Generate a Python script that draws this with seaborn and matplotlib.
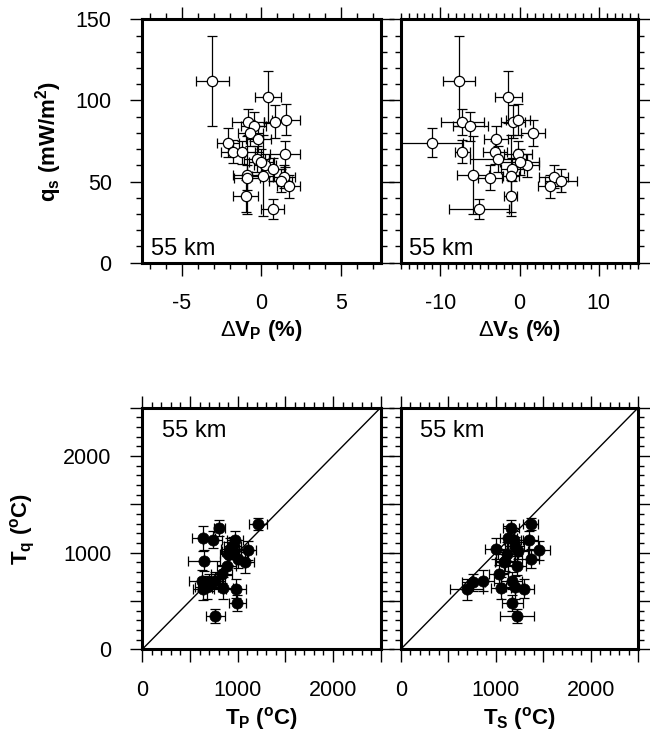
import numpy as np
import pandas as pd
import matplotlib
matplotlib.use('Agg')
import matplotlib.pyplot as plt
from matplotlib.ticker import MultipleLocator, FixedLocator
import seaborn as sns

# surface heat flow vs velocity anomalies (55 km)
q_s = [112, 102, 86.5, 87, 88, 84, 80, 76, 74, 68.5, 68, 67, 64, 60, 57.5, 54, 53.6, 52.5, 53, 50.5, 47, 41, 33, 62]
q_err = [27.5, 16, 8, 10, 9.5, 9, 8, 8, 9, 7, 7, 8, 8, 7, 7, 24, 25, 8, 7, 7, 7, 10, 6, 8]
dvp = [-3.1, 0.4, -0.85, 0.85, 1.55, -0.5, -0.7, -0.2, -2.1, -1.8, -1.2, 1.5, -0.3, 0.2, 0.75, -0.9, 0.1, -0.9, 1.4, 1.2, 1.7, -1.0, 0.7, 0.0]
dvp_err = [1.05, 0.8, 1.0, 0.7, 0.9, 0.8, 0.8, 0.8, 0.7, 0.75, 0.8, 0.95, 0.8, 0.7, 0.7, 0.9, 0.7, 0.8, 0.7, 0.7, 0.7, 0.8, 0.7, 0.8]
dvs = [-7.6, -1.4, -7.2, -0.85, -0.2, -6.2, 1.7, -3.0, -11.1, -7.2, -3.1, -0.2, -2.7, 1.0, -0.9, -5.9, -1.1, -3.75, 4.3, 5.25, 3.8, -1.1, -5.1, 0.0]
dvs_err = [2.0, 1.7, 2.7, 1.5, 1.5, 2.2, 1.5, 1.5, 4.0, 1.0, 1.5, 1.8, 3.5, 1.5, 1.5, 2.0, 1.0, 1.5, 1.8, 2.0, 1.5, 0.8, 3.8, 2.5]

# temperatures from heat flow vs from velocities
t_q = [1295, 1253, 1150, 1133, 1126, 1073, 1039, 1025, 1020, 987, 936, 918, 901, 866, 780, 711, 711, 693, 641, 634, 628, 620, 479, 347]
t_q_err = [60, 85, 130, 90, 100, 90, 110, 100, 90, 120, 100, 110, 110, 100, 90, 110, 90, 90, 120, 110, 100, 110, 80, 70]
t_p = [1217, 808, 640, 738, 972, 948, 920, 1112, 940, 900, 1000, 647, 1077, 885, 833, 623, 762, 700, 675, 843, 983, 640, 996, 766]
t_p_err = [93, 60, 122, 100, 80, 90, 90, 80, 100, 90, 100, 170, 90, 100, 110, 130, 110, 120, 120, 110, 100, 110, 90, 100]
t_s = [1368, 1161, 1133, 1190, 1354, 1200, 1003, 1458, 1231, 1120, 1368, 1100, 1087, 1224, 1034, 869, 1168, 764, 1203, 1055, 1298, 694, 1174, 1227]
t_s_err = [80, 80, 90, 100, 90, 100, 120, 110, 110, 100, 90, 100, 100, 90, 100, 110, 110, 120, 90, 110, 100, 175, 110, 180]

depth_label = '55 km'

sns.set_theme(style='ticks')
plt.rcParams['font.family'] = ['Liberation Sans', 'DejaVu Sans']
plt.rcParams['mathtext.fontset'] = 'custom'
plt.rcParams['mathtext.rm'] = 'Liberation Sans'
plt.rcParams['mathtext.it'] = 'Liberation Sans:italic'
plt.rcParams['mathtext.bf'] = 'Liberation Sans:bold'
plt.rcParams['axes.unicode_minus'] = False
for key in ('text.color', 'axes.labelcolor', 'xtick.color', 'ytick.color',
            'xtick.labelcolor', 'ytick.labelcolor'):
    plt.rcParams[key] = 'black'

top_df = pd.DataFrame({'q': q_s, 'q_err': q_err, 'dvp': dvp, 'dvp_err': dvp_err,
                       'dvs': dvs, 'dvs_err': dvs_err})
bot_df = pd.DataFrame({'tq': t_q, 'tq_err': t_q_err, 'tp': t_p, 'tp_err': t_p_err,
                       'ts': t_s, 'ts_err': t_s_err})

fig = plt.figure(figsize=(6.5, 7.34), dpi=100)
ax_vp = fig.add_axes([0.2189, 0.6421, 0.3668, 0.3316])
ax_vs = fig.add_axes([0.6165, 0.6421, 0.3655, 0.3316])
ax_tp = fig.add_axes([0.2189, 0.1154, 0.3668, 0.3293])
ax_ts = fig.add_axes([0.6165, 0.1154, 0.3655, 0.3293])

TICK_FS = 15.5


def style_axis(ax, left_labels):
    for sp in ax.spines.values():
        sp.set_visible(True)
        sp.set_linewidth(2.2)
        sp.set_color('black')
    ax.tick_params(which='both', direction='out', top=True, right=True,
                   labeltop=False, labelright=False, labelleft=left_labels,
                   color='black', labelcolor='black', width=1,
                   labelsize=TICK_FS, pad=13)
    ax.tick_params(which='major', length=9)
    ax.tick_params(which='minor', length=4)
    ax.set_facecolor('white')


def draw_top(ax, xcol, xerrcol):
    ax.errorbar(top_df[xcol], top_df['q'], xerr=top_df[xerrcol], yerr=top_df['q_err'],
                fmt='none', ecolor='black', elinewidth=0.9, capsize=3.5, capthick=0.9, zorder=2)
    sns.scatterplot(data=top_df, x=xcol, y='q', ax=ax, s=55, color='white',
                    edgecolor='black', linewidth=0.9, zorder=3, legend=False)
    ax.set_ylim(0, 150)
    ax.yaxis.set_major_locator(MultipleLocator(50))
    ax.yaxis.set_minor_locator(MultipleLocator(10))
    ax.text(0.035, 0.032, depth_label, transform=ax.transAxes, fontsize=17,
            ha='left', va='baseline', color='black')


def draw_bottom(ax, xcol, xerrcol):
    ax.axline((0, 0), slope=1, color='black', lw=1, zorder=1)
    ax.errorbar(bot_df[xcol], bot_df['tq'], xerr=bot_df[xerrcol], yerr=bot_df['tq_err'],
                fmt='none', ecolor='black', elinewidth=0.9, capsize=3.5, capthick=0.9, zorder=2)
    sns.scatterplot(data=bot_df, x=xcol, y='tq', ax=ax, s=65, color='black',
                    edgecolor='black', linewidth=0.5, zorder=3, legend=False)
    ax.set_xlim(0, 2500)
    ax.set_ylim(0, 2500)
    for axis in (ax.xaxis, ax.yaxis):
        axis.set_major_locator(FixedLocator([0, 500, 1000, 1500, 2000, 2500]))
        axis.set_minor_locator(MultipleLocator(100))
    ax.set_xticklabels(['0', '', '1000', '', '2000', ''])
    ax.set_yticklabels(['0', '', '1000', '', '2000', ''])
    ax.text(0.081, 0.88, depth_label, transform=ax.transAxes, fontsize=17,
            ha='left', va='baseline', color='black')


label_kw = dict(fontsize=16, fontweight='bold', color='black')

draw_top(ax_vp, 'dvp', 'dvp_err')
ax_vp.set_xlim(-7.5, 7.5)
ax_vp.xaxis.set_major_locator(MultipleLocator(5))
ax_vp.xaxis.set_minor_locator(MultipleLocator(1))
style_axis(ax_vp, True)
ax_vp.set_xlabel(r'$\Delta\mathbf{V_P}$ (%)', labelpad=3, **label_kw)
ax_vp.set_ylabel(r'$\mathbf{q_s}$ (mW/m$^\mathbf{2}$)', **label_kw)
ax_vp.yaxis.set_label_coords(-0.33, 0.5)

draw_top(ax_vs, 'dvs', 'dvs_err')
ax_vs.set_xlim(-15, 15)
ax_vs.xaxis.set_major_locator(MultipleLocator(10))
ax_vs.xaxis.set_minor_locator(MultipleLocator(1))
style_axis(ax_vs, False)
ax_vs.set_xlabel(r'$\Delta\mathbf{V_S}$ (%)', labelpad=3, **label_kw)
ax_vs.set_ylabel('')

draw_bottom(ax_tp, 'tp', 'tp_err')
style_axis(ax_tp, True)
ax_tp.set_xlabel(r'$\mathbf{T_P}$ ($^\mathbf{o}$C)', labelpad=3, **label_kw)
ax_tp.set_ylabel(r'$\mathbf{T_q}$ ($^\mathbf{o}$C)', **label_kw)
ax_tp.yaxis.set_label_coords(-0.442, 0.5)

draw_bottom(ax_ts, 'ts', 'ts_err')
style_axis(ax_ts, False)
ax_ts.set_xlabel(r'$\mathbf{T_S}$ ($^\mathbf{o}$C)', labelpad=3, **label_kw)
ax_ts.set_ylabel('')

fig.savefig('out.png', dpi=100, facecolor='white')
